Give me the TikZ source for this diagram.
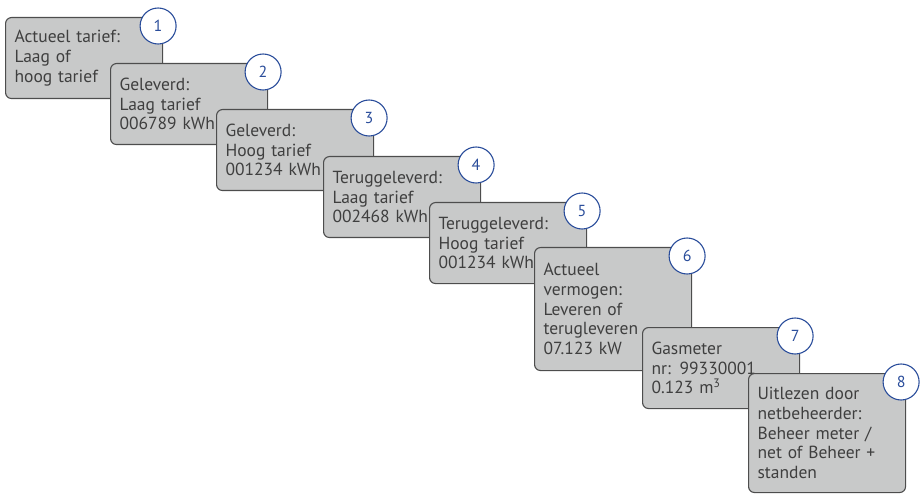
\documentclass[tikz,border=0pt]{standalone}
\usepackage{fontspec}
\setmainfont{PT Sans}

\definecolor{boxfill}{HTML}{C8C9C9}
\definecolor{boxline}{HTML}{4D4D4D}
\definecolor{boxtext}{HTML}{3F3F3F}
\definecolor{numblue}{HTML}{2A4D9B}

\begin{document}
\begin{tikzpicture}
  [x=1pt, y=-1pt,
   box/.style={draw=boxline, fill=boxfill, line width=1.1pt, rounded corners=6pt,
     anchor=north west, text width=139pt, inner xsep=9pt, inner ysep=0pt,
     minimum height=81pt, align=left, text=boxtext,
     font=\fontsize{17.5}{19.7}\selectfont},
   num/.style={circle, draw=numblue, fill=white, line width=1.1pt, minimum size=36pt,
     inner sep=0pt, text=numblue, font=\fontsize{16}{18}\selectfont}]
  \useasboundingbox (0,0) rectangle (920,494);

  \node[box] (b1) at (5,17) {Actueel tarief:\\Laag of\\hoog tarief};
  \node[num] (n1) at ([shift={(-5,9)}]b1.north east) {1};

  \node[box] (b2) at (110,63) {Geleverd:\\Laag tarief\\006789 kWh};
  \node[num] (n2) at ([shift={(-5,9)}]b2.north east) {2};

  \node[box] (b3) at (216,109) {Geleverd:\\Hoog tarief\\001234 kWh};
  \node[num] (n3) at ([shift={(-5,9)}]b3.north east) {3};

  \node[box] (b4) at (323,156) {Teruggeleverd:\\Laag tarief\\002468 kWh};
  \node[num] (n4) at ([shift={(-5,9)}]b4.north east) {4};

  \node[box] (b5) at (429,202) {Teruggeleverd:\\Hoog tarief\\001234 kWh};
  \node[num] (n5) at ([shift={(-5,9)}]b5.north east) {5};

  \node[box, minimum height=123pt] (b6) at (534,247)
    {Actueel\\vermogen:\\Leveren of\\terugleveren\\07.123 kW};
  \node[num] (n6) at ([shift={(-5,9)}]b6.north east) {6};

  \node[box] (b7) at (642,327) {Gasmeter\\nr: 99330001\\0.123 m\textsuperscript{3}};
  \node[num] (n7) at ([shift={(-5,9)}]b7.north east) {7};

  \node[box, minimum height=119pt] (b8) at (748,373)
    {Uitlezen door\\netbeheerder:\\Beheer meter /\\net of Beheer +\\standen};
  \node[num] (n8) at ([shift={(-5,9)}]b8.north east) {8};
\end{tikzpicture}
\end{document}
